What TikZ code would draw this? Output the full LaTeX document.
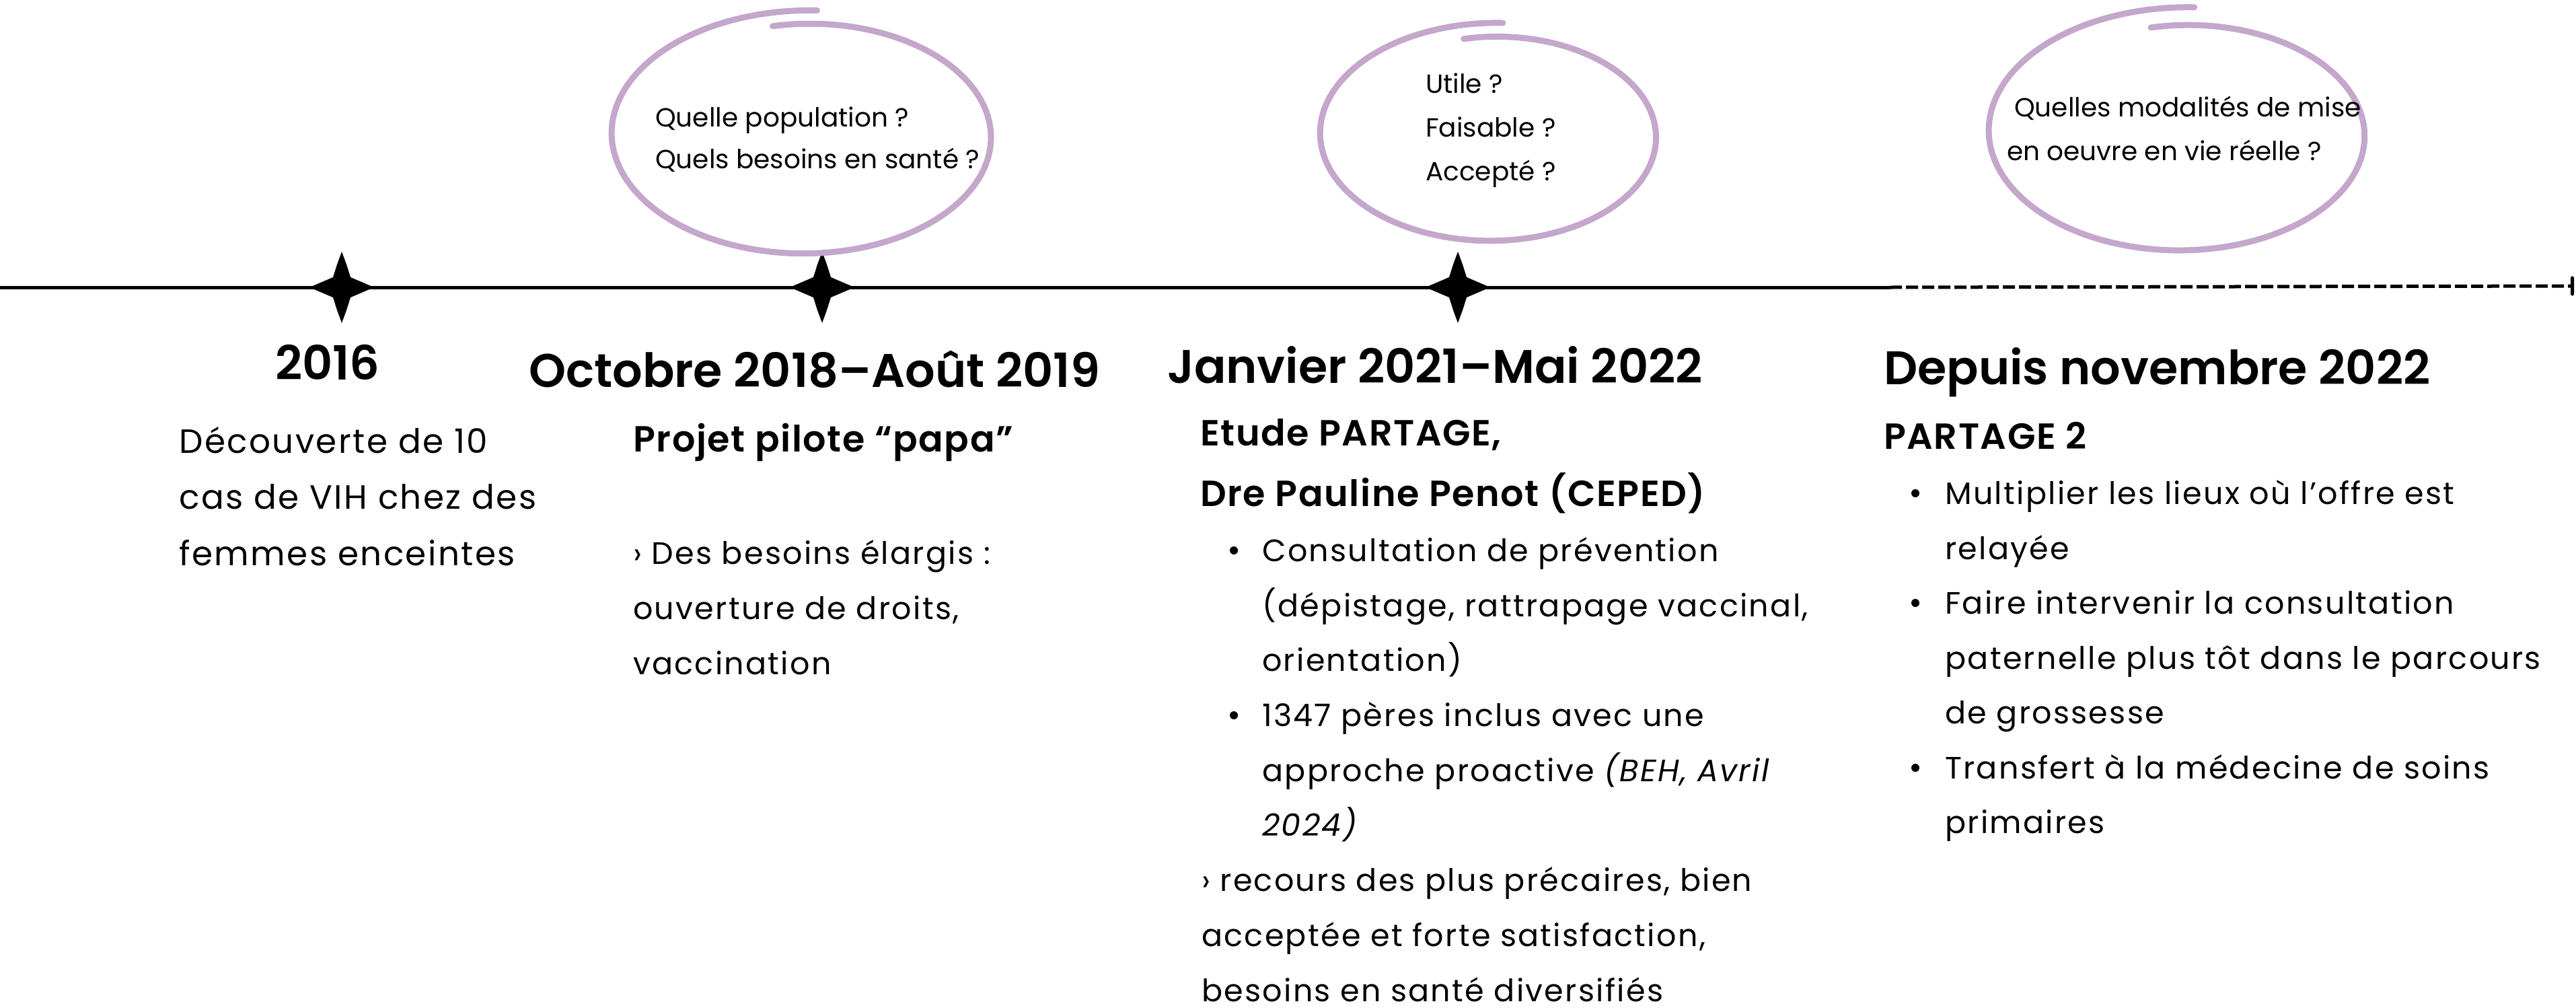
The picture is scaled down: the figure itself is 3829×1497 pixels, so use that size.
\documentclass[tikz,border=0pt]{standalone}
\usepackage{fontspec}
\usetikzlibrary{arrows.meta}
\setmainfont{Poppins}
\newfontfamily\bodyfont{Poppins}[LetterSpace=5]
\newfontfamily\subfont{Poppins SemiBold}[LetterSpace=3]
\newfontfamily\headfont{Poppins SemiBold}
\newfontfamily\bubfont{Poppins}
\definecolor{lilac}{RGB}{196,167,203}
\newcommand\lilacloop[6]{%
  \draw[bubble] plot[domain=259:633, samples=160, smooth, variable=\t]
   ({#1+#3*(#5+(#6-#5)*(\t-259)/374)*cos(\t)},{#2+#4*(#5+(#6-#5)*(\t-259)/374)*sin(\t)});}
\tikzset{
 heading/.style={anchor=base west, inner sep=0pt, font=\headfont\fontsize{70}{84}\selectfont},
 body/.style={anchor=base west, inner sep=0pt, font=\bodyfont\fontsize{46}{82}\selectfont},
 bodylarge/.style={anchor=base west, inner sep=0pt, font=\bodyfont\fontsize{50}{82}\selectfont},
 sub/.style={anchor=base west, inner sep=0pt, font=\subfont\fontsize{54}{82}\selectfont},
 bub/.style={anchor=base west, inner sep=0pt, font=\bubfont\fontsize{39}{60}\selectfont},
 dot/.style={circle, fill=black, inner sep=0pt, minimum size=12pt},
 bubble/.style={draw=lilac, line width=9pt, line cap=round, line join=round},
 timeline/.style={line width=5pt, draw=black},
 starmark/.pic={\fill[black] (0,-53) -- (7,-34) -- (13,-15) -- (48,0) -- (13,15) -- (7,34) -- (0,53) -- (-7,34) -- (-13,15) -- (-48,0) -- (-13,-15) -- (-7,-34) -- cycle;}
}
\begin{document}
\begin{tikzpicture}[x=1pt,y=-1pt]
\useasboundingbox (0,0) rectangle (3829,1497);
% timeline
\coordinate (tl0) at (0,427);
\coordinate (s1) at (508,427);
\coordinate (s2) at (1222,427);
\coordinate (s3) at (2167,427);
\coordinate (tl1) at (2809,427);
\coordinate (tl2) at (3826,425);
\draw[timeline] (tl0) -- (s1) -- (s2) -- (s3) -- (tl1);
\draw[timeline, dash pattern=on 18pt off 6pt, -{Bar[width=24pt,round]}] (tl1) -- (tl2);
\path (s1) pic {starmark};
\path (s2) pic {starmark};
\path (s3) pic {starmark};
% bubbles
\lilacloop{1199}{201}{276}{172}{0.96}{1.08}
\lilacloop{2220}{201}{242}{152}{0.96}{1.10}
\lilacloop{3246}{198}{276}{172}{0.93}{1.09}
\node[bub] (b1a) at (974,188) {Quelle population ?};
\node[bub] (b1b) at (974,250) {Quels besoins en santé ?};
\node[bub] (b2a) at (2119,138) {Utile ?};
\node[bub] (b2b) at (2119,203) {Faisable ?};
\node[bub] (b2c) at (2119,268) {Accepté ?};
\node[bub] (b3a) at (2994,173) {Quelles modalités de mise};
\node[bub] (b3b) at (2983,238) {en oeuvre en vie réelle ?};
% headings
\node[heading] (h1) at (409,564) {2016};
\node[heading] (h2) at (786,575) {Octobre 2018–Août 2019};
\node[heading] (h3) at (1735,569) {Janvier 2021–Mai 2022};
\node[heading] (h4) at (2800,571) {Depuis novembre 2022};
% column 1
\node[bodylarge] (c1a) at (266,673) {Découverte de 10};
\node[bodylarge] (c1b) at (266,756) {cas de VIH chez des};
\node[bodylarge] (c1c) at (266,840) {femmes enceintes};
% column 2
\node[sub] (c2a) at (941,671) {Projet pilote “papa”};
\node[body] (c2b) at (941,838) {› Des besoins élargis :};
\node[body] (c2c) at (941,920) {ouverture de droits,};
\node[body] (c2d) at (941,1002) {vaccination};
% column 3
\node[sub] (c3a) at (1784,662) {Etude PARTAGE,};
\node[sub] (c3b) at (1784,752) {Dre Pauline Penot (CEPED)};
\node[dot] (c3p1) at (1834,818) {};
\node[body] (c3c) at (1876,834) {Consultation de prévention};
\node[body] (c3d) at (1876,916) {(dépistage, rattrapage vaccinal,};
\node[body] (c3e) at (1876,997) {orientation)};
\node[dot] (c3p2) at (1834,1063) {};
\node[body] (c3f) at (1876,1079) {1347 pères inclus avec une};
\node[body] (c3g) at (1876,1161) {approche proactive \itshape(BEH, Avril};
\node[body] (c3h) at (1876,1242) {\itshape 2024)};
\node[body] (c3i) at (1786,1324) {› recours des plus précaires, bien};
\node[body] (c3j) at (1786,1406) {acceptée et forte satisfaction,};
\node[body] (c3k) at (1786,1488) {besoins en santé diversifiés};
% column 4
\node[sub] (c4a) at (2800,667) {PARTAGE 2};
\node[dot] (c4p1) at (2847,733) {};
\node[body] (c4b) at (2891,749) {Multiplier les lieux où l’offre est};
\node[body] (c4c) at (2891,831) {relayée};
\node[dot] (c4p2) at (2847,896) {};
\node[body] (c4d) at (2891,912) {Faire intervenir la consultation};
\node[body] (c4e) at (2891,994) {paternelle plus tôt dans le parcours};
\node[body] (c4f) at (2891,1075) {de grossesse};
\node[dot] (c4p3) at (2847,1141) {};
\node[body] (c4g) at (2891,1157) {Transfert à la médecine de soins};
\node[body] (c4h) at (2891,1238) {primaires};
\end{tikzpicture}
\end{document}
